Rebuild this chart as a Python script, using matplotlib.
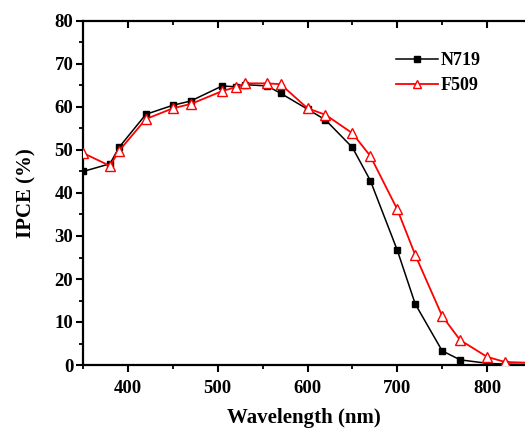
import matplotlib
matplotlib.use('Agg')
import matplotlib.pyplot as plt
from matplotlib.ticker import MultipleLocator

plt.rcParams['font.family'] = ['Liberation Serif', 'DejaVu Serif']
plt.rcParams['font.weight'] = 'bold'

## data
wavelength = [350, 380, 390, 420, 450, 470, 505, 520, 530, 555, 570,
              600, 620, 650, 670, 700, 720, 750, 770, 800, 820, 850]
n719 = [45.0, 46.8, 50.6, 58.3, 60.4, 61.4, 64.9, 64.7, 65.2, 64.9, 63.2,
        59.5, 57.0, 50.6, 42.9, 26.7, 14.2, 3.3, 1.2, 0.4, 0.2, 0.1]
f509 = [49.3, 46.3, 49.8, 57.2, 59.7, 60.7, 63.7, 64.6, 65.5, 65.5, 65.3,
        59.7, 58.2, 53.9, 48.6, 36.2, 25.6, 11.4, 5.8, 1.9, 0.7, 0.5]

fig = plt.figure(figsize=(5.25, 4.3), dpi=100)
ax = fig.add_axes([83 / 525, 1 - 365 / 430, 1 - 83 / 525, (365 - 21) / 430])

ax.plot(wavelength, n719, color='black', lw=1.1, marker='s', ms=4.8,
        mfc='black', mec='black', label='N719', zorder=3)
ax.plot(wavelength, f509, color='red', lw=1.3, marker='^', ms=6.5,
        mfc='white', mec='red', mew=1.0, label='F509', zorder=4)

ax.set_xlim(349.9, 842.3)
ax.set_ylim(0, 80)
ax.xaxis.set_major_locator(MultipleLocator(100))
ax.xaxis.set_minor_locator(MultipleLocator(50))
ax.yaxis.set_major_locator(MultipleLocator(10))
ax.yaxis.set_minor_locator(MultipleLocator(5))

for side in ['left', 'bottom', 'top']:
    ax.spines[side].set_linewidth(1.6)
ax.spines['right'].set_visible(False)

ax.tick_params(which='major', direction='out', length=5, width=1.5,
               labelsize=13.5, pad=2)
ax.tick_params(which='minor', direction='out', length=3, width=1.3)
ax.tick_params(axis='x', which='both', top=True)
ax.tick_params(axis='x', which='major', pad=6)
for lab in ax.get_xticklabels() + ax.get_yticklabels():
    lab.set_fontweight('bold')

# top ticks point inward like the original
for t in ax.xaxis.get_major_ticks() + ax.xaxis.get_minor_ticks():
    t.tick2line.set_marker(matplotlib.lines.TICKDOWN)

ax.set_xlabel('Wavelength (nm)', fontsize=15, fontweight='bold', labelpad=8)
ax.set_ylabel('IPCE (%)', fontsize=15, fontweight='bold', labelpad=13)

leg = ax.legend(loc='upper left', bbox_to_anchor=(396 / 525, 1 - 52 / 430),
                bbox_transform=fig.transFigure, frameon=False, borderpad=0,
                borderaxespad=0, numpoints=1, markerscale=0.9,
                handlelength=2.3, handletextpad=0.2, labelspacing=0.45,
                prop={'size': 13, 'weight': 'bold'})

fig.savefig('out.png', dpi=100)
